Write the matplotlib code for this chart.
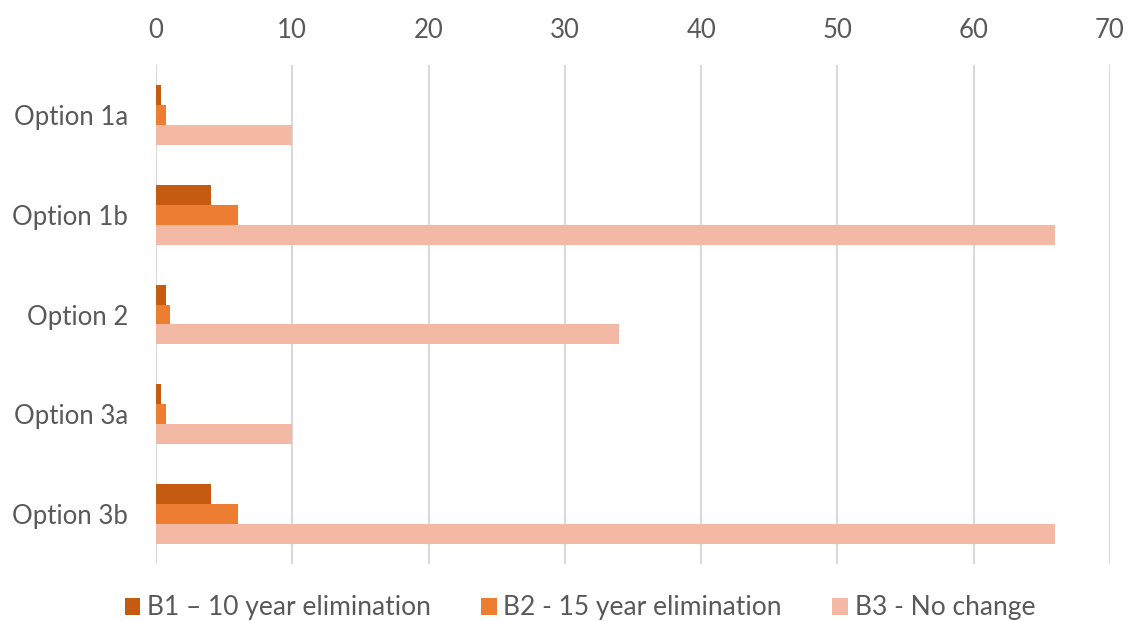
import matplotlib.pyplot as plt
import numpy as np

categories = ["Option 1a", "Option 1b", "Option 2", "Option 3a", "Option 3b"]
series_names = ["B1 \u2013 10 year elimination", "B2 - 15 year elimination", "B3 - No change"]
b1 = [0.4, 4, 0.7, 0.4, 4]
b2 = [0.7, 6, 1.0, 0.7, 6]
b3 = [10, 66, 34, 10, 66]
xticks = [0, 10, 20, 30, 40, 50, 60, 70]

colors = ["#C55A11", "#ED7D31", "#F4B9A4"]
text_color = "#595959"

plt.rcParams["font.family"] = ["Lato", "DejaVu Sans"]

fig = plt.figure(figsize=(11.28, 6.21), dpi=100)
ax = fig.add_axes([0.1383, 0.0918, 0.8457, 0.8035])

y = np.arange(len(categories))
h = 0.2
for i, (vals, name) in enumerate(zip([b1, b2, b3], series_names)):
    ax.barh(y + (i - 1) * h, vals, height=h, color=colors[i], label=name, zorder=3)

ax.set_ylim(len(categories) - 0.5, -0.5)
ax.set_xlim(0, 70)
ax.set_yticks(y)
ax.set_yticklabels(categories)
ax.set_xticks(xticks)
ax.xaxis.tick_top()
ax.tick_params(axis="both", length=0, labelsize=18.5, colors=text_color)
ax.tick_params(axis="x", pad=16)
ax.tick_params(axis="y", pad=20)
ax.grid(axis="x", color="#D9D9D9", linewidth=1.5, zorder=0)
for s in ax.spines.values():
    s.set_visible(False)

fig.legend(loc="center", bbox_to_anchor=(0.514, 0.021), ncol=3, frameon=False,
           fontsize=19, labelcolor=text_color, handlelength=0.6, handleheight=0.6,
           handletextpad=0.25, columnspacing=1.9, borderpad=0, borderaxespad=0)

fig.savefig("out.png", dpi=100)
